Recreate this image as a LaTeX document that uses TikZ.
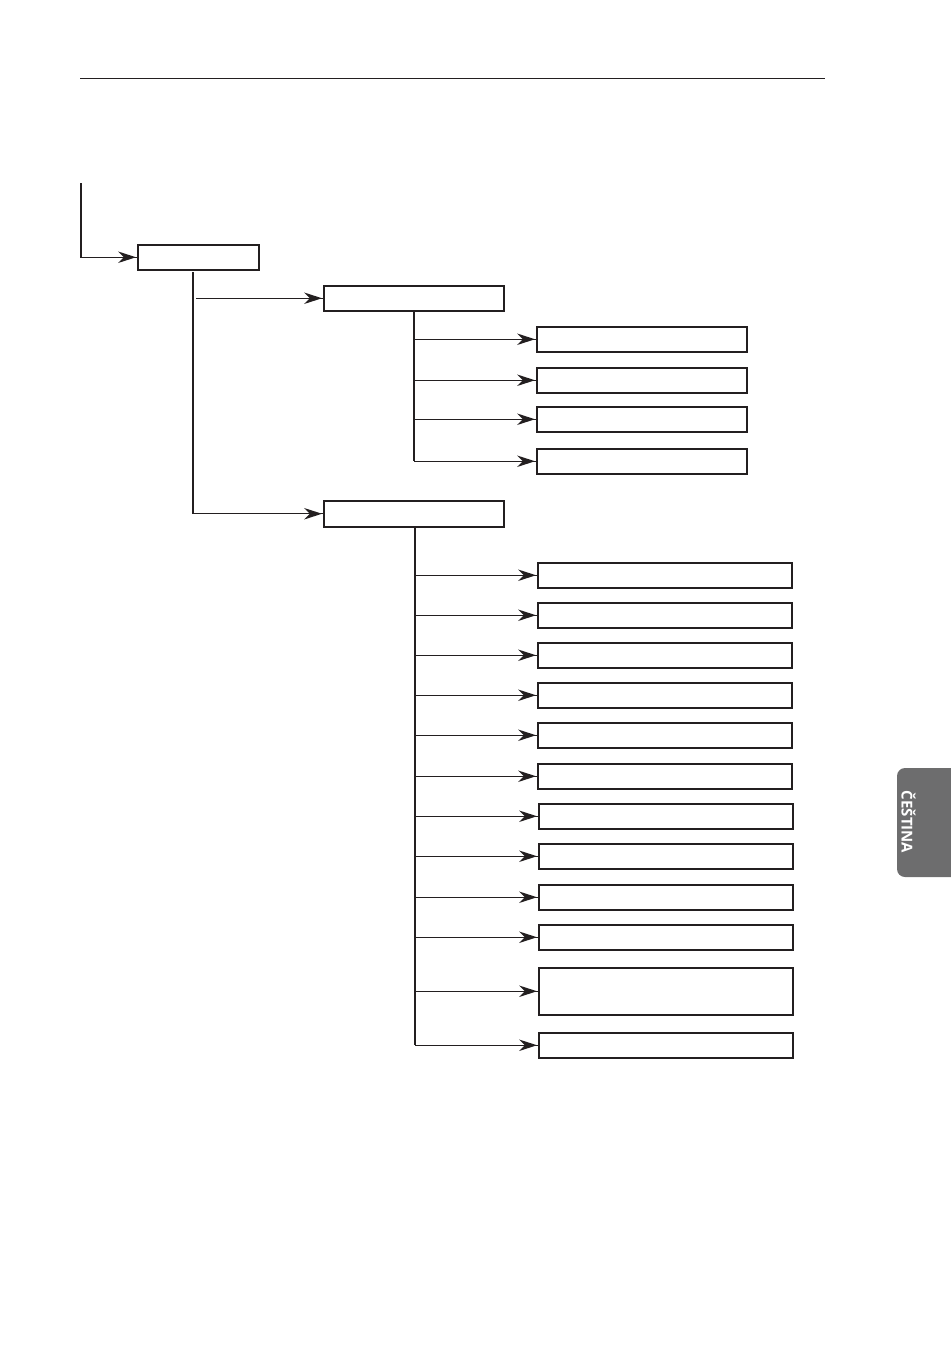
\documentclass[tikz,border=0pt]{standalone}
\usepackage{fontspec}
\newfontfamily\tabfont{Open Sans}
\definecolor{tabgrey}{HTML}{6D6D6E}
\definecolor{ink}{HTML}{231F20}
\begin{document}
\begin{tikzpicture}[x=1pt,y=-1pt,
  box/.style={draw=ink,line width=1.5pt,inner sep=0pt,anchor=north west},
  link/.style={draw=ink,line width=1.3pt},
  trunk/.style={draw=ink,line width=1.3pt},
  head/.pic={\fill[ink] (-1,0) -- (-19,-5.8) -- (-13,0) -- (-19,5.8) -- cycle;}]
\useasboundingbox (0,0) rectangle (950,1346);
% top rule
\draw[draw=ink,line width=0.9pt] (80,78) -- (825,78);
% level 1
\node[box,minimum width=121pt,minimum height=25pt] (b1) at (137,244) {};
\coordinate (s0) at (81,183);
\draw[link] (s0) |- (b1.west);
\pic at (b1.west) {head};
% level 2
\node[box,minimum width=180pt,minimum height=25pt] (b2) at (323,285) {};
\node[box,minimum width=180pt,minimum height=26pt] (b3) at (323,500) {};
\coordinate (t1a) at (193,272);
\coordinate (h1) at (196,298);
\draw[trunk] (t1a) -- (t1a |- b3.west);
\draw[link] (h1 |- b2.west) -- (b2.west);
\pic at (b2.west) {head};
\draw[link] (t1a |- b3.west) -- (b3.west);
\pic at (b3.west) {head};
% level 3 group A
\foreach \i/\y in {1/326,2/367,3/406,4/448}{
  \node[box,minimum width=210pt,minimum height=25pt] (a\i) at (536,\y) {};
}
\coordinate (ta) at (414,310);
\draw[trunk] (ta) -- (ta |- a4.west);
\foreach \i in {1,2,3,4}{
  \draw[link] (a\i.west -| ta) -- (a\i.west);
  \pic at (a\i.west) {head};
}
% level 3 group B
\foreach \i/\y in {1/562,2/602,3/642,4/682,5/722,6/763}{
  \node[box,minimum width=254pt,minimum height=25pt] (c\i) at (537,\y) {};
}
\foreach \i/\y in {7/803,8/843,9/884,10/924}{
  \node[box,minimum width=254pt,minimum height=25pt] (c\i) at (538,\y) {};
}
\node[box,minimum width=254pt,minimum height=47pt] (c11) at (538,967) {};
\node[box,minimum width=254pt,minimum height=25pt] (c12) at (538,1032) {};
\coordinate (tb) at (415,526);
\draw[trunk] (tb) -- (tb |- c12.west);
\foreach \i in {1,...,12}{
  \draw[link] (c\i.west -| tb) -- (c\i.west);
  \pic at (c\i.west) {head};
}
% language tab
\fill[tabgrey,rounded corners=8pt] (897,768) rectangle (970,877);
\node[text=white,rotate=-90,font=\tabfont\bfseries\fontsize{15}{17}\selectfont] (tab) at (908.5,822) {ČEŠTINA};
\end{tikzpicture}
\end{document}
